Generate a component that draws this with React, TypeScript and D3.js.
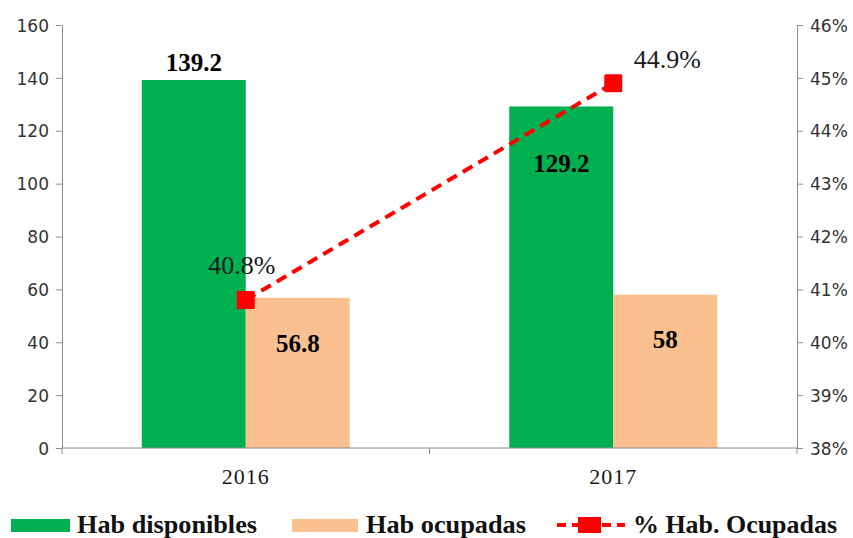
import React, { useEffect, useRef } from "react";
import * as d3 from "d3";

const WIDTH = 853;
const HEIGHT = 538;

// datos del gráfico
const categories: string[] = ["2016", "2017"];
const habDisponibles: number[] = [139.2, 129.2];
const habOcupadas: number[] = [56.8, 58];
const pctOcupadas: number[] = [0.408, 0.449];
const leftTicks: number[] = [0, 20, 40, 60, 80, 100, 120, 140, 160];
const rightTicks: number[] = [0.38, 0.39, 0.4, 0.41, 0.42, 0.43, 0.44, 0.45, 0.46];
const legendLabels: string[] = ["Hab disponibles", "Hab ocupadas", "% Hab. Ocupadas"];

const GREEN = "#00b050";
const PEACH = "#fac090";
const RED = "#ff0000";
const AXIS = "#8c8c8c";
const SERIF = "'Liberation Serif', 'Times New Roman', serif";

const App: React.FC = () => {
  const ref = useRef<SVGSVGElement | null>(null);

  useEffect(() => {
    if (!ref.current) return;
    const svg = d3.select(ref.current);
    svg.selectAll("*").remove();

    const left = 62;
    const right = 797;
    const top = 25;
    const bottom = 448;

    const x = d3.scaleBand<string>().domain(categories).range([left, right]);
    const bw = 104;
    const yL = d3.scaleLinear().domain([0, 160]).range([bottom, top]);
    const yR = d3.scaleLinear().domain([0.38, 0.46]).range([bottom, top]);
    const cx = (c: string) => (x(c) || 0) + x.bandwidth() / 2;

    const g = svg.append("g");

    // barras
    g.selectAll(".disp")
      .data(categories)
      .enter()
      .append("rect")
      .attr("x", (c) => cx(c) - bw)
      .attr("y", (_, i) => yL(habDisponibles[i]))
      .attr("width", bw)
      .attr("height", (_, i) => bottom - yL(habDisponibles[i]))
      .attr("fill", GREEN);

    g.selectAll(".ocup")
      .data(categories)
      .enter()
      .append("rect")
      .attr("x", (c) => cx(c))
      .attr("y", (_, i) => yL(habOcupadas[i]))
      .attr("width", bw)
      .attr("height", (_, i) => bottom - yL(habOcupadas[i]))
      .attr("fill", PEACH);

    // ejes
    const axisL = g.append("g").attr("transform", `translate(${left},0)`)
      .call(d3.axisLeft(yL).tickValues(leftTicks).tickSize(6).tickPadding(7));
    const axisR = g.append("g").attr("transform", `translate(${right},0)`)
      .call(d3.axisRight(yR).tickValues(rightTicks).tickSize(6).tickPadding(7)
        .tickFormat((d) => d3.format(".0%")(d as number)));
    [axisL, axisR].forEach((a) => {
      a.select(".domain").attr("stroke", AXIS);
      a.selectAll(".tick line").attr("stroke", AXIS);
      a.selectAll(".tick text")
        .attr("fill", "#333")
        .attr("font-family", "'DejaVu Sans', Verdana, sans-serif")
        .attr("font-size", 17)
        .attr("dy", "0.36em");
    });

    const xAxis = g.append("g").attr("transform", `translate(0,${bottom})`);
    xAxis.append("line").attr("x1", left).attr("x2", right).attr("stroke", AXIS);
    const bounds = [left, ...categories.map((c) => (x(c) || 0) + x.bandwidth())];
    xAxis.selectAll(".xt").data(bounds).enter().append("line")
      .attr("x1", (d) => d).attr("x2", (d) => d).attr("y1", 0).attr("y2", 6)
      .attr("stroke", AXIS);
    xAxis.selectAll(".xl").data(categories).enter().append("text")
      .attr("x", (c) => cx(c)).attr("y", 36)
      .attr("text-anchor", "middle")
      .attr("font-family", SERIF)
      .attr("font-size", 22)
      .attr("letter-spacing", 1)
      .attr("fill", "#1a1a1a")
      .text((c) => c);

    // línea de porcentaje
    const line = d3.line<number>()
      .x((_, i) => cx(categories[i]))
      .y((d) => yR(d));
    g.append("path")
      .datum(pctOcupadas)
      .attr("d", line)
      .attr("fill", "none")
      .attr("stroke", RED)
      .attr("stroke-width", 4)
      .attr("stroke-dasharray", "11,7");
    g.selectAll(".mk").data(pctOcupadas).enter().append("rect")
      .attr("x", (_, i) => cx(categories[i]) - 9)
      .attr("y", (d) => yR(d) - 9)
      .attr("width", 18).attr("height", 18)
      .attr("rx", 1.5)
      .attr("fill", RED);

    // etiquetas de datos
    const dispLabelY = [yL(habDisponibles[0]) - 9, 172];
    g.selectAll(".ld").data(habDisponibles).enter().append("text")
      .attr("x", (_, i) => cx(categories[i]) - bw / 2)
      .attr("y", (_, i) => dispLabelY[i])
      .attr("text-anchor", "middle")
      .attr("font-family", SERIF).attr("font-weight", "bold").attr("font-size", 25)
      .text((d) => d3.format(".1f")(d));
    const ocupLabelY = [352, 348];
    g.selectAll(".lo").data(habOcupadas).enter().append("text")
      .attr("x", (_, i) => cx(categories[i]) + bw / 2)
      .attr("y", (_, i) => ocupLabelY[i])
      .attr("text-anchor", "middle")
      .attr("font-family", SERIF).attr("font-weight", "bold").attr("font-size", 25)
      .text((d) => (Number.isInteger(d) ? String(d) : d3.format(".1f")(d)));
    const pctDx = [-4, 54];
    const pctDy = [-26, -15];
    g.selectAll(".lp").data(pctOcupadas).enter().append("text")
      .attr("x", (_, i) => cx(categories[i]) + pctDx[i])
      .attr("y", (d, i) => yR(d) + pctDy[i])
      .attr("text-anchor", "middle")
      .attr("font-family", SERIF).attr("font-size", 26)
      .attr("fill", "#1a1a1a")
      .text((d) => d3.format(".1%")(d));

    // leyenda
    const lg = svg.append("g");
    lg.append("rect").attr("x", 11).attr("y", 519).attr("width", 59).attr("height", 13).attr("fill", GREEN);
    lg.append("rect").attr("x", 292).attr("y", 519).attr("width", 66).attr("height", 13).attr("fill", PEACH);
    lg.append("line").attr("x1", 557).attr("x2", 625).attr("y1", 525).attr("y2", 525)
      .attr("stroke", RED).attr("stroke-width", 4).attr("stroke-dasharray", "9,6");
    lg.append("rect").attr("x", 578).attr("y", 517).attr("width", 23).attr("height", 16).attr("fill", RED);
    const legX = [77, 366, 633];
    const legW = [180, 160, 204];
    lg.selectAll(".lt").data(legendLabels).enter().append("text")
      .attr("x", (_, i) => legX[i])
      .attr("y", 533)
      .attr("textLength", (_, i) => legW[i])
      .attr("lengthAdjust", "spacingAndGlyphs")
      .attr("font-family", SERIF)
      .attr("font-weight", "bold")
      .attr("font-size", 25)
      .attr("fill", "#111")
      .text((d) => d);
  }, []);

  return (
    <svg
      ref={ref}
      width={WIDTH}
      height={HEIGHT}
      style={{ position: "absolute", left: 0, top: 0, background: "#fff" }}
    />
  );
};

export default App;
